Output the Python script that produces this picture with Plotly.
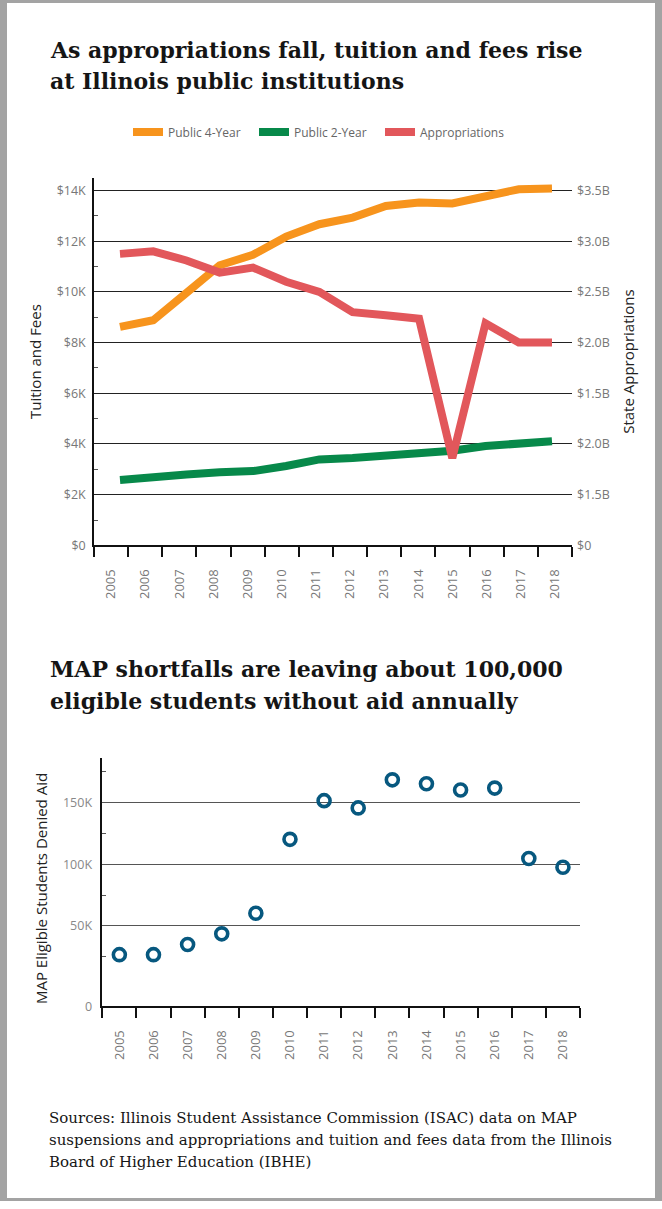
import plotly.graph_objects as go

# ---- data -------------------------------------------------------------
years = [2005, 2006, 2007, 2008, 2009, 2010, 2011, 2012, 2013, 2014, 2015, 2016, 2017, 2018]

# average tuition and fees, dollars
public_4yr = [8620, 8880, 9960, 11050, 11460, 12180, 12670, 12930, 13390, 13530, 13490, 13750, 14050, 14080]
public_2yr = [2580, 2710, 2800, 2880, 2930, 3130, 3390, 3450, 3530, 3640, 3730, 3920, 4010, 4110]

# state appropriations, billions of dollars
appropriations = [2.875, 2.90, 2.81, 2.69, 2.74, 2.60, 2.50, 2.30, 2.27, 2.235, 0.86, 2.19, 2.0, 2.0]

# MAP-eligible students denied aid
denied_aid = [26600, 26600, 34900, 43500, 60200, 120200, 151600, 145700, 168500, 165300, 160200, 161800, 104600, 97600]

# tick labels
fees_tickvals = [0, 2000, 4000, 6000, 8000, 10000, 12000, 14000]
fees_ticktext = ["$0", "$2K", "$4K", "$6K", "$8K", "$10K", "$12K", "$14K"]
approp_tickvals = [0, 0.5, 1.0, 1.5, 2.0, 2.5, 3.0, 3.5]
approp_ticktext = ["$0", "$1.5B", "$2.0B", "$1.5B", "$2.0B", "$2.5B", "$3.0B", "$3.5B"]
denied_ticktext = ["0", "50K", "100K", "150K"]

# ---- styling ----------------------------------------------------------
W, H = 662, 1209
ORANGE = "#F7941D"
GREEN = "#07894A"
RED = "#E2575B"
BLUE = "#07587F"
SANS = "Open Sans, Arial, sans-serif"
SERIF = "DejaVu Serif, serif"
TICK_GRAY = "#777777"


def px_x(p):
    return p / W


def px_y(p):
    return 1 - p / H


year_labels = [str(y) for y in years]
boundaries = [y - 0.5 for y in years] + [years[-1] + 0.5]

fig = go.Figure()

# empty trace so the year axis of the upper chart gets its own subplot
fig.add_trace(go.Scatter(x=years, y=[None] * len(years), mode="lines", showlegend=False,
                         hoverinfo="skip", xaxis="x", yaxis="y"))

fig.add_trace(go.Scatter(x=years, y=public_4yr, name="Public 4-Year", mode="lines",
                         line=dict(color=ORANGE, width=8), xaxis="x2", yaxis="y"))
fig.add_trace(go.Scatter(x=years, y=public_2yr, name="Public 2-Year", mode="lines",
                         line=dict(color=GREEN, width=8), xaxis="x2", yaxis="y"))
fig.add_trace(go.Scatter(x=years, y=appropriations, name="Appropriations", mode="lines",
                         line=dict(color=RED, width=8), xaxis="x2", yaxis="y2"))

fig.add_trace(go.Scatter(x=years, y=denied_aid, mode="markers", showlegend=False,
                         marker=dict(symbol="circle-open", size=12, color=BLUE,
                                     line=dict(width=3.6, color=BLUE)),
                         xaxis="x3", yaxis="y3"))

top_dom_x = [px_x(94), px_x(572)]
top_dom_y = [px_y(549), px_y(179)]
bot_dom_x = [px_x(102.3), px_x(580)]
bot_dom_y = [px_y(1013), px_y(762.7)]

fees_max = 14500
y3_lo, y3_hi = -15300, 186500

fig.update_layout(
    width=W, height=H,
    margin=dict(l=0, r=0, t=0, b=0),
    paper_bgcolor="white", plot_bgcolor="white",
    font=dict(family=SANS, color=TICK_GRAY, size=13),
    showlegend=True,
    legend=dict(orientation="h", x=px_x(128), xanchor="left", y=px_y(133), yanchor="middle",
                font=dict(family=SANS, size=12, color="#666666"),
                itemwidth=30, entrywidth=81, bgcolor="rgba(0,0,0,0)"),
    # visible year axis of the upper chart
    xaxis=dict(domain=top_dom_x, anchor="y", range=[years[0] - 0.5, years[-1] + 0.5],
               tickmode="array", tickvals=years, ticktext=year_labels, tickangle=-90,
               ticks="", ticklabelstandoff=17, showgrid=False, zeroline=False,
               showline=True, linecolor="#111111", linewidth=1.5,
               minor=dict(tickmode="array", tickvals=boundaries, ticks="outside",
                          ticklen=10, tickwidth=1.5, tickcolor="#111111", showgrid=False),
               tickfont=dict(size=13, color=TICK_GRAY)),
    # axis the upper lines are plotted on
    xaxis2=dict(domain=top_dom_x, anchor="y", overlaying="x", visible=False,
                range=[2004.218, 2018.602]),
    yaxis=dict(domain=top_dom_y, anchor="x", range=[0, fees_max],
               tickmode="array", tickvals=fees_tickvals, ticktext=fees_ticktext,
               showgrid=True, gridcolor="#222222", gridwidth=1.3, zeroline=False,
               showline=True, linecolor="#111111", linewidth=1.5, ticks="",
               ticklabelstandoff=4,
               minor=dict(tickmode="array", tickvals=[1000, 3000, 5000, 7000, 9000, 11000, 13000],
                          ticks="inside", ticklen=4, tickcolor="#555555", showgrid=False),
               title=dict(text="Tuition and Fees", standoff=11,
                          font=dict(family=SANS, size=15, color="#222222")),
               tickfont=dict(size=12.5, color=TICK_GRAY)),
    yaxis2=dict(anchor="x", overlaying="y", side="right", range=[0, fees_max / 4000],
                tickmode="array", tickvals=approp_tickvals, ticktext=approp_ticktext,
                showgrid=False, zeroline=False, showline=False, ticks="",
                ticklabelstandoff=4,
                title=dict(text="State Appropriations", standoff=14,
                           font=dict(family=SANS, size=15, color="#222222")),
                tickfont=dict(size=12.5, color=TICK_GRAY)),
    # lower chart
    xaxis3=dict(domain=bot_dom_x, anchor="y3", range=[years[0] - 0.5, years[-1] + 0.5],
                tickmode="array", tickvals=years, ticktext=year_labels, tickangle=-90,
                ticks="", ticklabelstandoff=17, showgrid=False, zeroline=False,
                showline=True, linecolor="#111111", linewidth=1.5,
                minor=dict(tickmode="array", tickvals=boundaries, ticks="outside",
                           ticklen=10, tickwidth=1.5, tickcolor="#111111", showgrid=False),
                tickfont=dict(size=13, color=TICK_GRAY)),
    yaxis3=dict(domain=bot_dom_y, anchor="x3", range=[y3_lo, y3_hi],
                tickmode="array", tickvals=[y3_lo, 50000, 100000, 150000], ticktext=denied_ticktext,
                showgrid=True, gridcolor="#555555", gridwidth=1.3, zeroline=False,
                showline=True, linecolor="#111111", linewidth=1.5, ticks="",
                ticklabelstandoff=6,
                minor=dict(tickmode="array", tickvals=[25000, 75000, 125000, 175000],
                           ticks="inside", ticklen=4, tickcolor="#555555", showgrid=False),
                tickfont=dict(size=12.5, color="#888888")),
)

# title of the lower chart's value axis
fig.add_annotation(text="MAP Eligible Students Denied Aid", xref="paper", yref="paper",
                   x=px_x(41), y=px_y(895), xanchor="center", yanchor="middle",
                   textangle=-90, showarrow=False,
                   font=dict(family=SANS, size=15, color="#222222"))

# headings and source note
TITLE_SIZE = 22
NOTE_SIZE = 15
text_lines = [
    ("As appropriations fall, tuition and fees rise", 50, TITLE_SIZE, "bold"),
    ("at Illinois public institutions", 82, TITLE_SIZE, "bold"),
    ("MAP shortfalls are leaving about 100,000", 673, TITLE_SIZE, "bold"),
    ("eligible students without aid annually", 706, TITLE_SIZE, "bold"),
    ("Sources: Illinois Student Assistance Commission (ISAC) data on MAP", 1125, NOTE_SIZE, "normal"),
    ("suspensions and appropriations and tuition and fees data from the Illinois", 1148, NOTE_SIZE, "normal"),
    ("Board of Higher Education (IBHE)", 1170, NOTE_SIZE, "normal"),
]
for txt, ypix, size, weight in text_lines:
    fig.add_annotation(text=txt, xref="paper", yref="paper", x=px_x(47 if size < 20 else 48),
                       y=px_y(ypix), xanchor="left", yanchor="middle", showarrow=False,
                       font=dict(family=SERIF, size=size, color="#151515", weight=weight))

# grey frame
FRAME = "#A3A3A3"
for x0, x1, y0, y1 in [(0, 7, 0, H), (W - 7, W, 0, H), (0, W, 0, 3), (0, W, H - 3, H)]:
    fig.add_shape(type="rect", xref="paper", yref="paper",
                  x0=px_x(x0), x1=px_x(x1), y0=px_y(y1), y1=px_y(y0),
                  fillcolor=FRAME, line=dict(width=0), layer="above")

fig.write_html("out.html")
